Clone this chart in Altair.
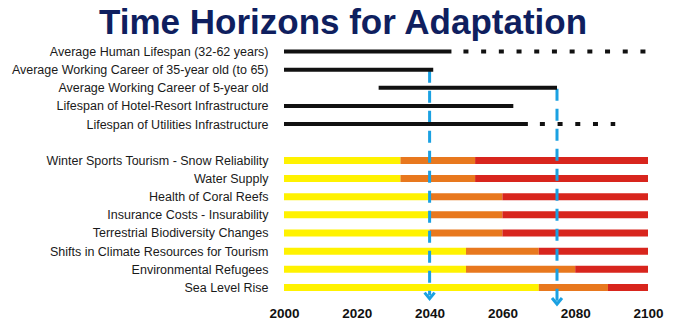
import json
import altair as alt
import pandas as pd

# ---------------- data ----------------
title_text = "Time Horizons for Adaptation"

horizon_labels = [
    "Average Human Lifespan (32-62 years)",
    "Average Working Career of 35-year old (to 65)",
    "Average Working Career of 5-year old",
    "Lifespan of Hotel-Resort Infrastructure",
    "Lifespan of Utilities Infrastructure",
]
horizon_start = [2000, 2000, 2026, 2000, 2000]
horizon_end = [2046, 2041, 2075, 2063, 2067]
horizon_extended_end = [2100, None, None, None, 2091]

impact_labels = [
    "Winter Sports Tourism - Snow Reliability",
    "Water Supply",
    "Health of Coral Reefs",
    "Insurance Costs - Insurability",
    "Terrestrial Biodiversity Changes",
    "Shifts in Climate Resources for Tourism",
    "Environmental Refugees",
    "Sea Level Rise",
]
low_end = [2032, 2032, 2040, 2040, 2040, 2050, 2050, 2070]
moderate_end = [2052.5, 2052.5, 2060, 2060, 2060, 2070, 2080, 2089]
high_end = [2100, 2100, 2100, 2100, 2100, 2100, 2100, 2100]

phases = ["low", "moderate", "high"]
phase_colors = ["#FFF200", "#E8781E", "#D8251D"]

marker_years = [2040, 2075]
marker_from_row = [1, 2]          # horizon row the marker hangs from
marker_end_row = [13.45, 13.75]   # arrow tip (in row units)

year_ticks = [2000, 2020, 2040, 2060, 2080, 2100]

# ---------------- tables ----------------
horizon_rows = list(range(len(horizon_labels)))
impact_rows = [len(horizon_labels) + 1 + i for i in range(len(impact_labels))]
labels_by_row = horizon_labels + [""] + impact_labels

solid_df = pd.DataFrame({
    "row": horizon_rows,
    "start": horizon_start,
    "end": horizon_end,
})
dotted_df = pd.DataFrame([
    {"row": r, "start": e, "end": x}
    for r, e, x in zip(horizon_rows, horizon_end, horizon_extended_end) if x is not None
])

seg_records = []
for r, a, b, c in zip(impact_rows, low_end, moderate_end, high_end):
    seg_records.append({"row": r, "start": 2000, "end": a, "phase": "low"})
    seg_records.append({"row": r, "start": a, "end": b, "phase": "moderate"})
    seg_records.append({"row": r, "start": b, "end": c, "phase": "high"})
seg_df = pd.DataFrame(seg_records)

marker_df = pd.DataFrame({
    "start": marker_years,
    "row": marker_from_row,
    "row_end": marker_end_row,
})

# ---------------- chart ----------------
BLUE = "#1BA1E2"
x_scale = alt.Scale(domain=[2000, 2100], nice=False, zero=False)
y_scale = alt.Scale(domain=[-0.634, 13.912], reverse=True, nice=False, zero=False)

x_axis = alt.Axis(values=year_ticks, format="d", grid=False, domain=False, ticks=False,
                  tickSize=0, labelFontSize=13.5, labelFontWeight="bold",
                  labelFont="Liberation Sans", labelColor="#111111", labelPadding=2,
                  labelFlush=False, labelOverlap=False, title=None)
y_axis = alt.Axis(values=horizon_rows + impact_rows,
                  labelExpr=json.dumps(labels_by_row) + "[round(datum.value)]",
                  grid=False, domain=False, ticks=False, tickSize=0,
                  labelFontSize=12.5, labelFont="Liberation Sans", labelColor="#1a1a1a",
                  labelAlign="right", labelBaseline="middle", labelPadding=16,
                  labelLimit=0, labelFlush=False, labelOverlap=False, labelBound=False,
                  title=None)

X = lambda f: alt.X(f, scale=x_scale, axis=x_axis)
Y = lambda f: alt.Y(f, scale=y_scale, axis=y_axis)

segments = alt.Chart(seg_df).mark_rule(strokeWidth=7, strokeCap="butt").encode(
    x=X("start:Q"),
    x2="end:Q",
    y=Y("row:Q"),
    color=alt.Color("phase:N", scale=alt.Scale(domain=phases, range=phase_colors), legend=None),
)

markers = alt.Chart(marker_df).mark_rule(
    color=BLUE, strokeWidth=3, strokeDash=[12, 8], strokeDashOffset=-1, strokeCap="butt"
).encode(
    x=X("start:Q"),
    y=Y("row:Q"),
    y2="row_end:Q",
)

arrows = alt.Chart(marker_df).mark_point(
    shape="M-1,-0.6L0,0.6L1,-0.6", filled=False, color=BLUE, strokeWidth=3,
    size=100, opacity=1
).encode(
    x=X("start:Q"),
    y=Y("row_end:Q"),
)

solid = alt.Chart(solid_df).mark_rule(strokeWidth=4, color="#111111", strokeCap="butt").encode(
    x=X("start:Q"),
    x2="end:Q",
    y=Y("row:Q"),
)

dotted = alt.Chart(dotted_df).mark_rule(
    strokeWidth=4, color="#111111", strokeCap="butt", strokeDash=[5, 12.7], strokeDashOffset=5.7
).encode(
    x=X("start:Q"),
    x2="end:Q",
    y=Y("row:Q"),
)

chart = alt.layer(segments, markers, arrows, solid, dotted).properties(
    width=364,
    height=264,
    padding={"left": 284, "top": 40, "right": 38, "bottom": 27},
    autosize=alt.AutoSizeParams(type="none"),
    background="white",
    title=alt.TitleParams(
        text=title_text, fontSize=35, font="Liberation Sans", fontWeight="bold",
        color="#0F1F5F", anchor="middle", frame="group", dx=-123, offset=-36,
        baseline="bottom",
    ),
).configure_view(stroke=None)

chart.save("out.html", embed_options={"renderer": "svg", "actions": False})
